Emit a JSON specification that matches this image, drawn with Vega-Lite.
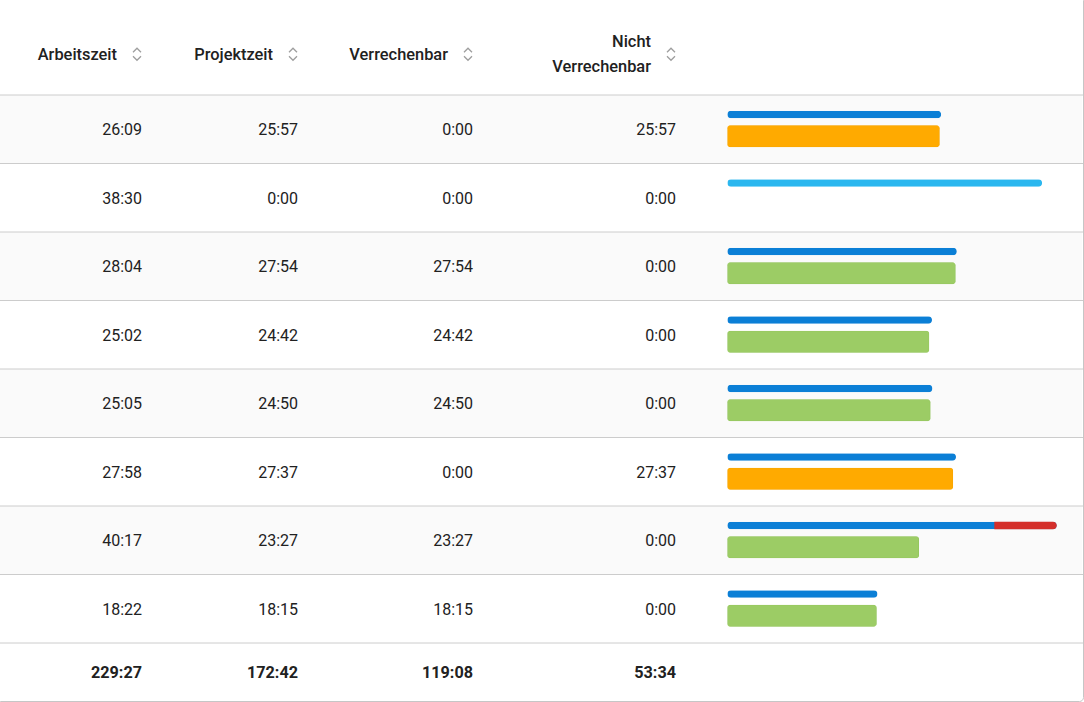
{
  "$schema": "https://vega.github.io/schema/vega-lite/v6.json",
  "width": 1087,
  "height": 705,
  "autosize": {"type": "none"},
  "padding": {"left": -4, "top": -4, "right": 1, "bottom": 1},
  "background": "#ffffff",
  "config": {
    "view": {"stroke": "#c6c6c6", "strokeWidth": 1, "cornerRadius": 4},
    "text": {"font": "Roboto", "color": "#212121"}
  },
  "datasets": {
    "zeilen": [
      {"zeile": 1, "arbeitszeit": 26.15, "projektzeit": 25.95, "art": "Projekt", "abrechnung": "nicht verrechenbar"},
      {"zeile": 2, "arbeitszeit": 38.5, "projektzeit": 0, "art": "ohne Projekt", "abrechnung": null},
      {"zeile": 3, "arbeitszeit": 28.067, "projektzeit": 27.9, "art": "Projekt", "abrechnung": "verrechenbar"},
      {"zeile": 4, "arbeitszeit": 25.033, "projektzeit": 24.7, "art": "Projekt", "abrechnung": "verrechenbar"},
      {"zeile": 5, "arbeitszeit": 25.083, "projektzeit": 24.833, "art": "Projekt", "abrechnung": "verrechenbar"},
      {"zeile": 6, "arbeitszeit": 27.967, "projektzeit": 27.617, "art": "Projekt", "abrechnung": "nicht verrechenbar"},
      {"zeile": 7, "arbeitszeit": 40.283, "projektzeit": 23.45, "art": "Projekt", "abrechnung": "verrechenbar", "ueberstunden_ab": 32.65},
      {"zeile": 8, "arbeitszeit": 18.367, "projektzeit": 18.25, "art": "Projekt", "abrechnung": "verrechenbar"}
    ],
    "zellen": [
      {"zeile": 0, "spalte": 1, "teil": "kopf", "text": "Arbeitszeit"},
      {"zeile": 0, "spalte": 2, "teil": "kopf", "text": "Projektzeit"},
      {"zeile": 0, "spalte": 3, "teil": "kopf", "text": "Verrechenbar"},
      {"zeile": 0, "spalte": 4, "teil": "kopf", "text": "Nicht\nVerrechenbar"},
      {"zeile": 1, "spalte": 1, "teil": "wert", "text": "26:09"},
      {"zeile": 1, "spalte": 2, "teil": "wert", "text": "25:57"},
      {"zeile": 1, "spalte": 3, "teil": "wert", "text": "0:00"},
      {"zeile": 1, "spalte": 4, "teil": "wert", "text": "25:57"},
      {"zeile": 2, "spalte": 1, "teil": "wert", "text": "38:30"},
      {"zeile": 2, "spalte": 2, "teil": "wert", "text": "0:00"},
      {"zeile": 2, "spalte": 3, "teil": "wert", "text": "0:00"},
      {"zeile": 2, "spalte": 4, "teil": "wert", "text": "0:00"},
      {"zeile": 3, "spalte": 1, "teil": "wert", "text": "28:04"},
      {"zeile": 3, "spalte": 2, "teil": "wert", "text": "27:54"},
      {"zeile": 3, "spalte": 3, "teil": "wert", "text": "27:54"},
      {"zeile": 3, "spalte": 4, "teil": "wert", "text": "0:00"},
      {"zeile": 4, "spalte": 1, "teil": "wert", "text": "25:02"},
      {"zeile": 4, "spalte": 2, "teil": "wert", "text": "24:42"},
      {"zeile": 4, "spalte": 3, "teil": "wert", "text": "24:42"},
      {"zeile": 4, "spalte": 4, "teil": "wert", "text": "0:00"},
      {"zeile": 5, "spalte": 1, "teil": "wert", "text": "25:05"},
      {"zeile": 5, "spalte": 2, "teil": "wert", "text": "24:50"},
      {"zeile": 5, "spalte": 3, "teil": "wert", "text": "24:50"},
      {"zeile": 5, "spalte": 4, "teil": "wert", "text": "0:00"},
      {"zeile": 6, "spalte": 1, "teil": "wert", "text": "27:58"},
      {"zeile": 6, "spalte": 2, "teil": "wert", "text": "27:37"},
      {"zeile": 6, "spalte": 3, "teil": "wert", "text": "0:00"},
      {"zeile": 6, "spalte": 4, "teil": "wert", "text": "27:37"},
      {"zeile": 7, "spalte": 1, "teil": "wert", "text": "40:17"},
      {"zeile": 7, "spalte": 2, "teil": "wert", "text": "23:27"},
      {"zeile": 7, "spalte": 3, "teil": "wert", "text": "23:27"},
      {"zeile": 7, "spalte": 4, "teil": "wert", "text": "0:00"},
      {"zeile": 8, "spalte": 1, "teil": "wert", "text": "18:22"},
      {"zeile": 8, "spalte": 2, "teil": "wert", "text": "18:15"},
      {"zeile": 8, "spalte": 3, "teil": "wert", "text": "18:15"},
      {"zeile": 8, "spalte": 4, "teil": "wert", "text": "0:00"},
      {"zeile": 9, "spalte": 1, "teil": "summe", "text": "229:27"},
      {"zeile": 9, "spalte": 2, "teil": "summe", "text": "172:42"},
      {"zeile": 9, "spalte": 3, "teil": "summe", "text": "119:08"},
      {"zeile": 9, "spalte": 4, "teil": "summe", "text": "53:34"}
    ]
  },
  "resolve": {"scale": {"x": "independent"}},
  "encoding": {
    "y": {
      "field": "zeile",
      "type": "quantitative",
      "scale": {"domain": [-0.9453, 9.3467], "range": [0, 705], "nice": false, "zero": false, "padding": 0},
      "axis": null
    }
  },
  "layer": [
    {
      "data": {"name": "zeilen"},
      "transform": [{"filter": "datum.zeile % 2 == 1"}],
      "mark": {"type": "tick", "size": 1085, "thickness": 68.5, "color": "#fafafa", "opacity": 1}
    },
    {
      "data": {"name": "zellen"},
      "transform": [{"filter": "datum.spalte == 1 && datum.zeile >= 1"}],
      "mark": {"type": "rule", "color": "#cccccc", "strokeWidth": 1, "yOffset": -34.25}
    },
    {
      "data": {"name": "zellen"},
      "encoding": {
        "x": {
          "field": "spalte",
          "type": "quantitative",
          "scale": {"domain": [1, 2, 3, 4], "range": [146, 302, 477, 680], "nice": false, "zero": false},
          "axis": null
        }
      },
      "layer": [
        {
          "transform": [{"filter": "datum.teil == 'kopf' && indexof(datum.text, '\\n') < 0"}],
          "mark": {"type": "text", "align": "right", "baseline": "middle", "fontSize": 16.4, "fontWeight": 500, "dx": -25, "dy": -6.25},
          "encoding": {"text": {"field": "text"}}
        },
        {
          "transform": [{"filter": "datum.teil == 'kopf' && indexof(datum.text, '\\n') >= 0"}],
          "mark": {"type": "text", "align": "right", "baseline": "middle", "fontSize": 16.4, "fontWeight": 500, "dx": -25, "dy": -18.75, "lineBreak": "\n", "lineHeight": 25},
          "encoding": {"text": {"field": "text"}}
        },
        {
          "transform": [{"filter": "datum.teil == 'wert'"}],
          "mark": {"type": "text", "align": "right", "baseline": "middle", "fontSize": 16, "fontWeight": 400, "dy": 1},
          "encoding": {"text": {"field": "text"}}
        },
        {
          "transform": [{"filter": "datum.teil == 'summe'"}],
          "mark": {"type": "text", "align": "right", "baseline": "middle", "fontSize": 16.2, "fontWeight": 700, "dy": -4.5},
          "encoding": {"text": {"field": "text"}}
        },
        {
          "transform": [{"filter": "datum.teil == 'kopf'"}],
          "mark": {"type": "point", "shape": "M-1,0.5L0,-0.5L1,0.5", "size": 64, "filled": false, "stroke": "#9e9e9e", "strokeWidth": 1.3, "opacity": 1, "xOffset": -5, "yOffset": -10.5}
        },
        {
          "transform": [{"filter": "datum.teil == 'kopf'"}],
          "mark": {"type": "point", "shape": "M-1,-0.5L0,0.5L1,-0.5", "size": 64, "filled": false, "stroke": "#9e9e9e", "strokeWidth": 1.3, "opacity": 1, "xOffset": -5, "yOffset": -2.5}
        }
      ]
    },
    {
      "data": {"name": "zeilen"},
      "resolve": {"scale": {"color": "independent"}},
      "layer": [
        {
          "mark": {"type": "bar", "orient": "horizontal", "cornerRadius": 3.75, "yOffset": -14.75},
          "encoding": {
            "x": {
              "field": "arbeitszeit",
              "type": "quantitative",
              "scale": {"domain": [0, 40], "range": [731.3, 1058.4], "nice": false},
              "axis": null
            },
            "size": {"value": 7.5},
            "color": {
              "field": "art",
              "type": "nominal",
              "scale": {"domain": ["Projekt", "ohne Projekt"], "range": ["#0b7fd6", "#2bb7ef"]},
              "legend": null
            }
          }
        },
        {
          "transform": [{"filter": "isValid(datum.ueberstunden_ab)"}],
          "mark": {"type": "bar", "orient": "horizontal", "cornerRadiusTopRight": 3.75, "cornerRadiusBottomRight": 3.75, "yOffset": -14.75, "color": "#d42f2b"},
          "encoding": {
            "x": {"field": "ueberstunden_ab", "type": "quantitative", "axis": null},
            "x2": {"field": "arbeitszeit"},
            "size": {"value": 7.5}
          }
        },
        {
          "transform": [{"filter": "datum.projektzeit > 0"}],
          "mark": {"type": "bar", "orient": "horizontal", "cornerRadius": 3, "yOffset": 7, "strokeWidth": 1},
          "encoding": {
            "x": {"field": "projektzeit", "type": "quantitative", "axis": null},
            "size": {"value": 22},
            "color": {
              "field": "abrechnung",
              "type": "nominal",
              "scale": {"domain": ["verrechenbar", "nicht verrechenbar"], "range": ["#9ccc65", "#ffaa00"]},
              "legend": null
            },
            "stroke": {
              "field": "abrechnung",
              "type": "nominal",
              "scale": {"domain": ["verrechenbar", "nicht verrechenbar"], "range": ["#8fc158", "#f3a200"]},
              "legend": null
            }
          }
        }
      ]
    }
  ]
}
